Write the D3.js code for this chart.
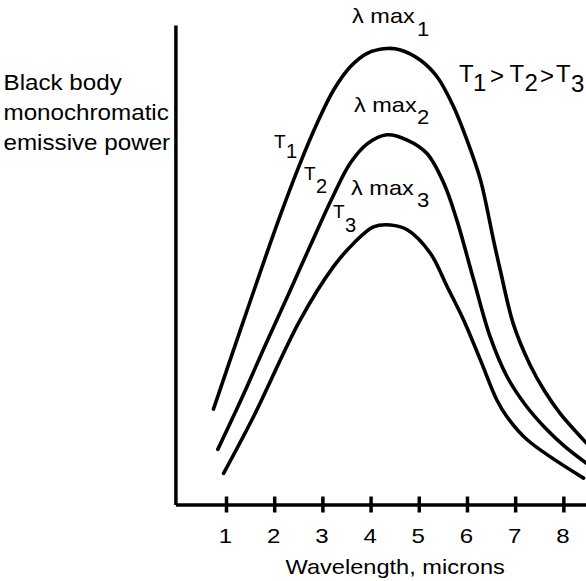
<!DOCTYPE html>
<html><head><meta charset="utf-8">
<script src="https://cdn.jsdelivr.net/npm/d3@7"></script>
<style>html,body{margin:0;padding:0;background:#fff}svg{display:block}</style>
</head><body>
<script>
// ---- data ----
const curveNames = ["T1", "T2", "T3"];
const wavelengthT1 = [0.74,1.37,2.09,2.54,2.89,3.23,3.58,3.93,4.34,4.62,5.03,5.38,5.72,6.00,6.28,6.55,6.69,6.97,7.31,7.62,7.94,8.48];
const powerT1      = [1.99,3.85,5.93,7.12,7.95,8.64,9.13,9.41,9.51,9.48,9.27,8.92,8.30,7.60,6.77,5.52,4.89,3.74,2.91,2.35,1.89,1.28];
const wavelengthT2 = [0.83,1.31,1.85,2.33,2.75,3.23,3.58,3.93,4.34,4.76,5.17,5.52,5.79,6.14,6.48,6.83,7.21,7.62,8.04,8.48];
const powerT2      = [1.15,2.18,3.40,4.46,5.40,6.45,7.12,7.52,7.71,7.60,7.32,6.70,5.93,4.68,3.50,2.67,2.08,1.60,1.20,0.86];
const wavelengthT3 = [0.95,1.57,2.54,3.23,3.65,4.06,4.41,4.76,5.24,5.59,5.93,6.28,6.62,6.83,7.25,8.42];
const powerT3      = [0.65,1.83,3.85,4.96,5.45,5.79,5.83,5.73,5.24,4.54,3.85,3.01,2.18,1.83,1.35,0.55];
const tickValues = [1,2,3,4,5,6,7,8];
const tickLabels = ["1","2","3","4","5","6","7","8"];
const yLabelLines = ["Black body", "monochromatic", "emissive power"];
const xLabel = "Wavelength, microns";
const xDomain = [-0.05, 8.47];
const yDomain = [0, 10];

// ---- drawing ----
const W = 586, H = 581;
const FONT = "'Liberation Sans', Arial, Helvetica, sans-serif";
const svg = d3.select("body").append("svg").attr("width", W).attr("height", H)
  .style("font-family", FONT);
svg.append("rect").attr("width", W).attr("height", H).attr("fill", "#fff");

const x = d3.scaleLinear().domain(xDomain).range([175.4, 586]);
const y = d3.scaleLinear().domain(yDomain).range([504.5, 25]);

// axes
const xAxis = d3.axisBottom(x).tickValues(tickValues).tickFormat((d, i) => tickLabels[i])
  .tickSizeInner(8).tickSizeOuter(0);
const gx = svg.append("g").attr("transform", `translate(0,${y(0)})`).call(xAxis);
gx.select(".domain").attr("stroke", "#000").attr("stroke-width", 3.5);
gx.selectAll(".tick line").attr("y1", -8).attr("y2", 8).attr("stroke", "#000").attr("stroke-width", 3.5);
gx.selectAll(".tick text").attr("y", 38.2).attr("dy", 0).attr("fill", "#000")
  .attr("font-size", 20).attr("font-family", FONT)
  .attr("transform", "translate(-1,0) scale(1.2,1)");

const yAxis = d3.axisLeft(y).tickValues([]).tickSizeOuter(0);
const gy = svg.append("g").attr("transform", `translate(${x(xDomain[0])},0)`).call(yAxis);
gy.select(".domain").attr("stroke", "#000").attr("stroke-width", 3.5);

// curves
const series = [
  {name: curveNames[0], w: wavelengthT1, v: powerT1},
  {name: curveNames[1], w: wavelengthT2, v: powerT2},
  {name: curveNames[2], w: wavelengthT3, v: powerT3}
];
const line = d3.line().x(d => x(d[0])).y(d => y(d[1])).curve(d3.curveCatmullRom.alpha(0.5));
svg.append("g").selectAll("path").data(series).join("path")
  .attr("d", s => line(s.w.map((w, i) => [w, s.v[i]])))
  .attr("fill", "none").attr("stroke", "#000").attr("stroke-width", 3.6)
  .attr("stroke-linecap", "round").attr("stroke-linejoin", "round");

// text helpers (positions in data units)
function label(wl, val, str, size, sx, anchor) {
  svg.append("text")
    .attr("transform", `translate(${x(wl)},${y(val)}) scale(${sx},1)`)
    .attr("font-size", size).attr("text-anchor", anchor || "start")
    .attr("fill", "#000").text(str);
}

// y label
const yLabBase = [8.647, 8.021, 7.396];
yLabelLines.forEach((t, i) => {
  svg.append("text")
    .attr("transform", `translate(3.5,${y(yLabBase[i])}) scale(1.1,1)`)
    .attr("font-size", 22).attr("fill", "#000").text(t);
});

// x label
label(4.51, -1.45, xLabel, 20, 1.18, "middle");

// lambda max labels
[[3.615, 10.042, 4.964, 9.771, "1"],
 [3.656, 8.192, 4.964, 7.935, "2"],
 [3.594, 6.455, 4.964, 6.211, "3"]].forEach(a => {
  label(a[0], a[1], "λ max", 21, 1.12);
  label(a[2], a[3], a[4], 21, 1.05);
});

// T labels near curves
[[1.996, 7.429, 2.245, 7.220, "1"],
 [2.619, 6.767, 2.868, 6.490, "2"],
 [3.220, 5.969, 3.469, 5.689, "3"]].forEach(a => {
  label(a[0], a[1], "T", 19, 1.0);
  label(a[2], a[3], a[4], 20, 1.0);
});

// T1 > T2 > T3
[[5.835, 8.817, "T"], [6.125, 8.624, "1"], [6.478, 8.775, ">"],
 [6.883, 8.817, "T"], [7.194, 8.624, "2"], [7.516, 8.775, ">"],
 [7.848, 8.817, "T"], [8.159, 8.609, "3"]].forEach(p => label(p[0], p[1], p[2], 24, 1.0));
</script>
</body></html>
